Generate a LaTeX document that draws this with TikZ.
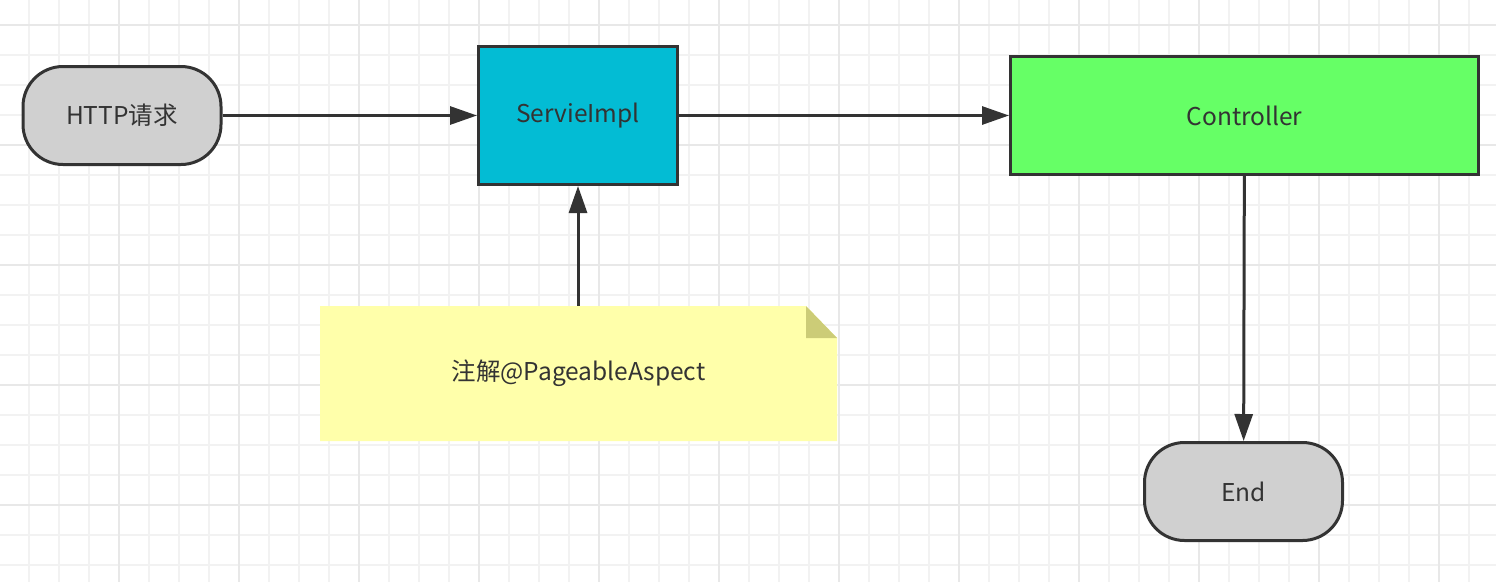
\documentclass[tikz,border=0pt]{standalone}
\usepackage{fontspec}
\setmainfont{Noto Sans CJK SC}
\usetikzlibrary{arrows.meta}
\definecolor{ink}{HTML}{333333}
\definecolor{gridminor}{HTML}{F2F2F2}
\definecolor{gridmajor}{HTML}{E8E8E8}
\definecolor{termfill}{HTML}{D0D0D0}
\definecolor{svcfill}{HTML}{03BCD4}
\definecolor{ctrlfill}{HTML}{66FF66}
\definecolor{notefill}{HTML}{FFFFAA}
\definecolor{notefold}{HTML}{CCCC77}
\tikzset{
  boxbase/.style={draw=ink, line width=3pt, text=ink, font=\fontsize{24.5}{28}\selectfont, inner sep=0pt},
  terminal/.style={boxbase, fill=termfill, rounded corners=40pt, minimum width=198pt, minimum height=98pt},
  procbox/.style={boxbase, fill=#1, rectangle},
  arr/.style={draw=ink, line width=3pt, -{Triangle[length=27pt,width=18pt]}},
}
\begin{document}
\begin{tikzpicture}[x=1pt,y=-1pt]
\useasboundingbox (0,0) rectangle (1496,582);
\fill[white] (0,0) rectangle (1496,582);
% grid
\foreach \x in {29,59,...,1496} \draw[gridminor, line width=1.5pt] (\x,0) -- (\x,582);
\foreach \y in {25,55,...,582} \draw[gridminor, line width=1.5pt] (0,\y) -- (1496,\y);
\foreach \x in {119,239,...,1496} \draw[gridmajor, line width=2pt] (\x,0) -- (\x,582);
\foreach \y in {25,145,...,582} \draw[gridmajor, line width=2pt] (0,\y) -- (1496,\y);
% nodes
\node[terminal] (http) at (122,115.5) {HTTP请求};
\node[procbox=svcfill, minimum width=199pt, minimum height=138pt] (svc) at (578,115.5) {ServieImpl};
\node[procbox=ctrlfill, minimum width=468pt, minimum height=118pt] (ctrl) at (1244.5,115.5) {Controller};
\node[terminal] (end) at (1243.5,491.5) {End};
% note
\fill[notefill] (320,306) -- (806,306) -- (837,338) -- (837,441) -- (320,441) -- cycle;
\fill[notefold] (806,306) -- (806,338) -- (837,338) -- cycle;
\node[text=ink, font=\fontsize{24.5}{28}\selectfont, minimum width=517pt, minimum height=135pt, inner sep=0pt] (note) at (578.5,373.5) {注解@PageableAspect};
% connectors
\draw[arr] (http) -- (svc);
\draw[arr] (svc) -- (ctrl);
\draw[arr] (note.north -| svc.south) -- (svc.south);
\draw[arr] (ctrl) -- (end);
\end{tikzpicture}
\end{document}
